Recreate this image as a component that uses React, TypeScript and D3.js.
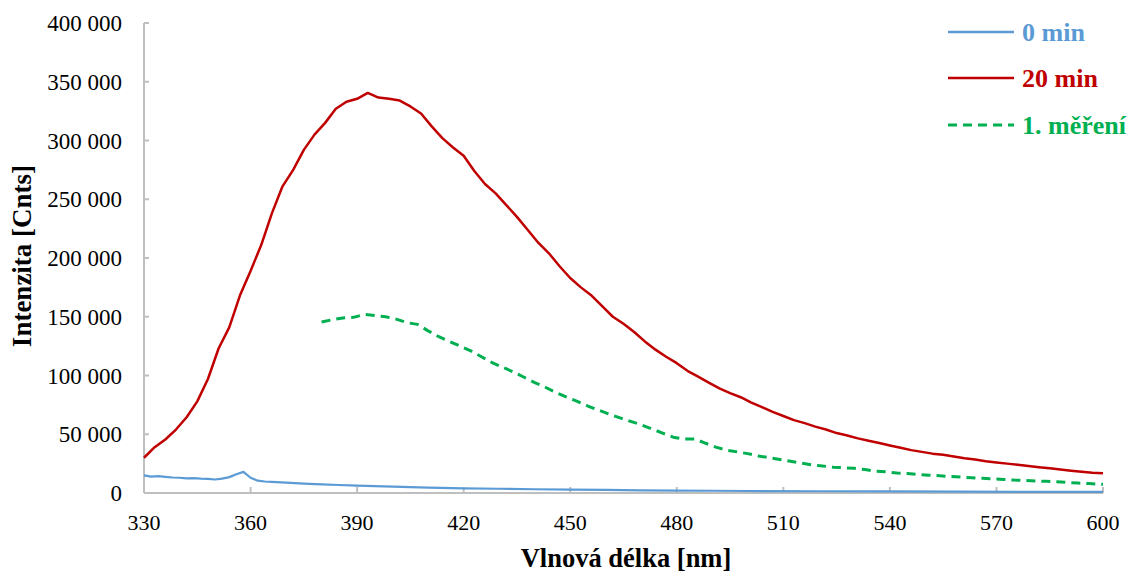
import React from "react";
import * as d3 from "d3";

const xTicks = [330, 360, 390, 420, 450, 480, 510, 540, 570, 600];
const yTicks = [0, 50000, 100000, 150000, 200000, 250000, 300000, 350000, 400000];

const blueNm = [330, 332, 334, 336, 338, 340, 342, 344, 346, 348, 350, 352, 354, 356, 358, 360, 362, 364, 366, 370, 375, 380, 385, 390, 395, 400, 405, 410, 420, 430, 440, 450, 460, 470, 480, 490, 500, 520, 540, 560, 580, 600];
const blueVal = [15000, 14000, 14300, 13800, 13200, 13000, 12500, 12600, 12200, 12000, 11500, 12200, 13500, 16000, 18000, 13000, 10500, 9800, 9500, 8800, 8000, 7400, 6800, 6200, 5800, 5500, 5000, 4600, 4000, 3600, 3200, 2900, 2600, 2300, 2100, 1900, 1700, 1500, 1300, 1100, 1000, 900];

const redNm = [330, 333, 336, 339, 342, 345, 348, 351, 354, 357, 360, 363, 366, 369, 372, 375, 378, 381, 384, 387, 390, 393, 396, 399, 402, 405, 408, 411, 414, 417, 420, 423, 426, 429, 432, 435, 438, 441, 444, 447, 450, 453, 456, 459, 462, 465, 468, 471, 474, 477, 480, 483, 486, 489, 492, 495, 498, 501, 504, 507, 510, 513, 516, 519, 522, 525, 528, 531, 534, 537, 540, 543, 546, 549, 552, 555, 558, 561, 564, 567, 570, 573, 576, 579, 582, 585, 588, 591, 594, 597, 600];
const redVal = [30000, 39000, 45500, 54000, 64500, 78000, 97000, 123000, 141000, 168000, 189000, 211000, 238000, 261000, 275000, 292000, 305000, 315000, 327000, 333000, 335500, 340500, 336500, 335500, 334000, 329000, 323000, 312000, 302000, 294000, 287000, 274000, 263000, 255000, 245000, 235000, 224000, 213000, 204000, 193000, 183000, 175000, 168000, 159000, 150000, 144000, 137000, 129000, 122000, 116000, 110500, 104000, 99000, 94000, 89000, 85000, 81500, 77000, 73000, 69000, 65500, 62000, 59500, 56500, 54000, 51000, 49000, 46500, 44500, 42500, 40500, 38500, 36500, 35000, 33500, 32500, 31000, 29500, 28500, 27000, 26000, 25000, 24000, 23000, 22000, 21000, 20000, 19000, 18000, 17200, 16800];

const greenNm = [380, 383, 386, 389, 392, 395, 398, 401, 404, 407, 410, 413, 416, 419, 422, 425, 428, 431, 434, 437, 440, 443, 446, 449, 452, 455, 458, 461, 464, 467, 470, 473, 476, 479, 482, 485, 488, 491, 494, 497, 500, 503, 506, 509, 512, 515, 518, 521, 524, 527, 530, 533, 536, 539, 542, 545, 548, 551, 554, 557, 560, 563, 566, 569, 572, 575, 578, 581, 584, 587, 590, 593, 596, 600];
const greenVal = [145500, 147500, 149000, 149500, 152000, 151000, 150000, 148000, 145000, 143500, 138000, 133000, 129000, 125000, 121000, 116000, 111000, 107000, 103000, 98500, 94000, 90000, 85500, 81500, 78000, 74000, 70500, 67000, 64000, 61000, 58000, 54500, 51000, 47500, 46000, 46000, 42500, 39000, 36500, 35000, 33500, 31500, 30000, 28500, 27000, 25500, 24000, 23000, 22000, 21500, 21000, 20000, 18500, 18000, 17000, 16500, 15800, 15200, 14700, 14000, 13500, 13000, 12500, 12000, 11500, 11000, 10700, 10300, 9900, 9500, 9000, 8500, 8000, 7400];

const seriesNames = ["0 min", "20 min", "1. měření"];
const seriesColors = ["#5B9BD5", "#C00000", "#00B050"];

const fmt = (v: number) => d3.format(",")(v).replace(/,/g, " ");

export default function App() {
  const W = 1132, H = 572;
  const x = d3.scaleLinear().domain([330, 600]).range([144, 1103]);
  const y = d3.scaleLinear().domain([0, 400000]).range([493, 23]);
  const line = d3.line<[number, number]>().x(d => x(d[0])).y(d => y(d[1]));
  const zip = (a: number[], b: number[]) => a.map((v, i) => [v, b[i]] as [number, number]);
  const serif = "'Liberation Serif', 'Times New Roman', serif";
  const axisColor = "#BFBFBF";
  const series = [
    { d: zip(blueNm, blueVal), w: 2.2, dash: undefined },
    { d: zip(redNm, redVal), w: 2.5, dash: undefined },
    { d: zip(greenNm, greenVal), w: 3, dash: "9 6" },
  ];
  const legendY = [32, 78, 125];
  return (
    <svg width={W} height={H} style={{ position: "absolute", left: 0, top: 0, background: "#fff" }} fontFamily={serif}>
      <rect width={W} height={H} fill="#fff" />
      <line x1={x(330)} x2={x(330)} y1={y(400000)} y2={y(0)} stroke={axisColor} strokeWidth={2} />
      <line x1={x(330)} x2={x(600)} y1={y(0)} y2={y(0)} stroke={axisColor} strokeWidth={2} />
      {yTicks.map(t => (
        <g key={"y" + t}>
          <line x1={x(330)} x2={x(330) + 5} y1={y(t)} y2={y(t)} stroke={axisColor} strokeWidth={2} />
          <text x={122} y={y(t) + 8} textAnchor="end" fontSize={23} fill="#000">{fmt(t)}</text>
        </g>
      ))}
      {xTicks.map(t => (
        <g key={"x" + t}>
          <line x1={x(t)} x2={x(t)} y1={y(0)} y2={y(0) - 6} stroke={axisColor} strokeWidth={2} />
          <text x={x(t)} y={530} textAnchor="middle" fontSize={22} fill="#000">{t}</text>
        </g>
      ))}
      {series.map((s, i) => (
        <path key={i} d={line(s.d) || ""} fill="none" stroke={seriesColors[i]} strokeWidth={s.w}
          strokeDasharray={s.dash} strokeLinejoin="round" />
      ))}
      <text x={626} y={567} textAnchor="middle" fontSize={26.5} fontWeight="bold" fill="#000">Vlnová délka [nm]</text>
      <text transform={`translate(31,256) rotate(-90)`} textAnchor="middle" fontSize={27} fontWeight="bold" fill="#000">Intenzita [Cnts]</text>
      {seriesNames.map((n, i) => (
        <g key={n}>
          <line x1={948} x2={1014} y1={legendY[i]} y2={legendY[i]} stroke={seriesColors[i]} strokeWidth={i === 2 ? 3 : 2.5}
            strokeDasharray={series[i].dash} />
          <text x={1022} y={legendY[i] + 9} fontSize={26} fontWeight="bold" fill={seriesColors[i]}>{n}</text>
        </g>
      ))}
    </svg>
  );
}
